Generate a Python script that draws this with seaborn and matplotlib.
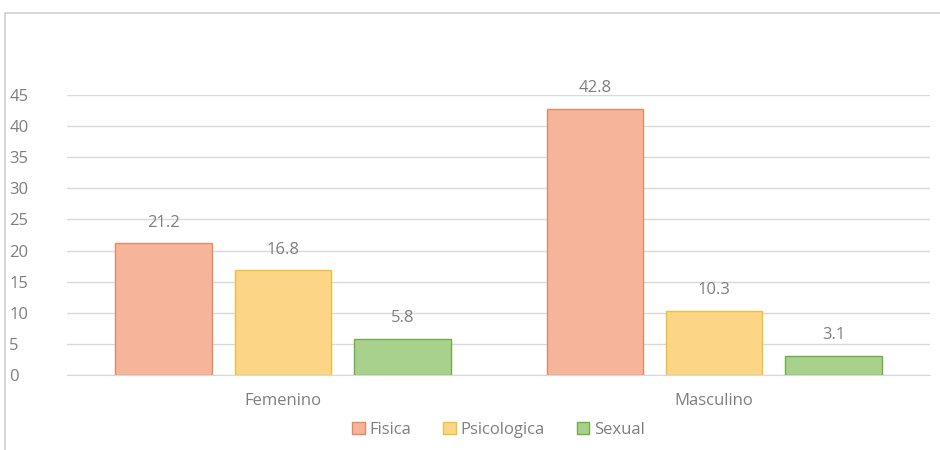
import pandas as pd
import matplotlib.pyplot as plt
import seaborn as sns
from matplotlib.patches import Rectangle

# データ
categorias = ['Femenino', 'Masculino']
tipos = ['Fisica', 'Psicologica', 'Sexual']
fisica = [21.2, 42.8]
psicologica = [16.8, 10.3]
sexual = [5.8, 3.1]

colores = ['#F6B49A', '#FDD586', '#A9D18E']
bordes = ['#E38B5E', '#EDC03C', '#70AD47']
gris = '#7F7F7F'

df = pd.DataFrame({
    'categoria': categorias * 3,
    'tipo': [t for t in tipos for _ in categorias],
    'valor': fisica + psicologica + sexual,
})

sns.set_style('white')
plt.rcParams['font.family'] = ['Open Sans', 'DejaVu Sans']

fig = plt.figure(figsize=(9.4, 4.5), dpi=100)
ax = fig.add_axes([0.0718, 0.1667, 0.9172, 0.6223])

# 外枠
fig.patches.append(Rectangle((5 / 940, -0.01), 1.0, 1 - 13 / 450 + 0.01,
                             transform=fig.transFigure, fill=False,
                             edgecolor='#D0D0D0', linewidth=1.2, zorder=0))

sns.barplot(data=df, x='categoria', y='valor', hue='tipo', order=categorias,
            hue_order=tipos, palette=colores, saturation=1, width=0.83,
            gap=0.19, ax=ax, zorder=3)

for cont, borde in zip(ax.containers, bordes):
    for bar in cont:
        bar.set_edgecolor(borde)
        bar.set_linewidth(1.0)
    ax.bar_label(cont, labels=[f'{v:.1f}' for v in cont.datavalues],
                 padding=9, color=gris, fontsize=12)

ax.set_ylim(0, 45)
ax.set_yticks(range(0, 50, 5))
ax.yaxis.grid(True, color='#D9D9D9', linewidth=1)
ax.set_axisbelow(True)
for s in ['top', 'right', 'left']:
    ax.spines[s].set_visible(False)
ax.spines['bottom'].set_color('#D9D9D9')
ax.tick_params(axis='both', length=0, colors=gris, labelsize=12)
ax.tick_params(axis='y', pad=42)
for lbl in ax.get_yticklabels():
    lbl.set_horizontalalignment('left')
ax.tick_params(axis='x', pad=13)
ax.set_xlabel('')
ax.set_ylabel('')

leg = ax.legend(loc='upper center', bbox_to_anchor=(0.5, -0.115), ncol=3,
                frameon=False, fontsize=12, handlelength=0.75, handleheight=0.75,
                handletextpad=0.3, columnspacing=1.9)
for t in leg.get_texts():
    t.set_color(gris)
for h, borde in zip(leg.legend_handles, bordes):
    h.set_edgecolor(borde)

fig.savefig('out.png', dpi=100)
